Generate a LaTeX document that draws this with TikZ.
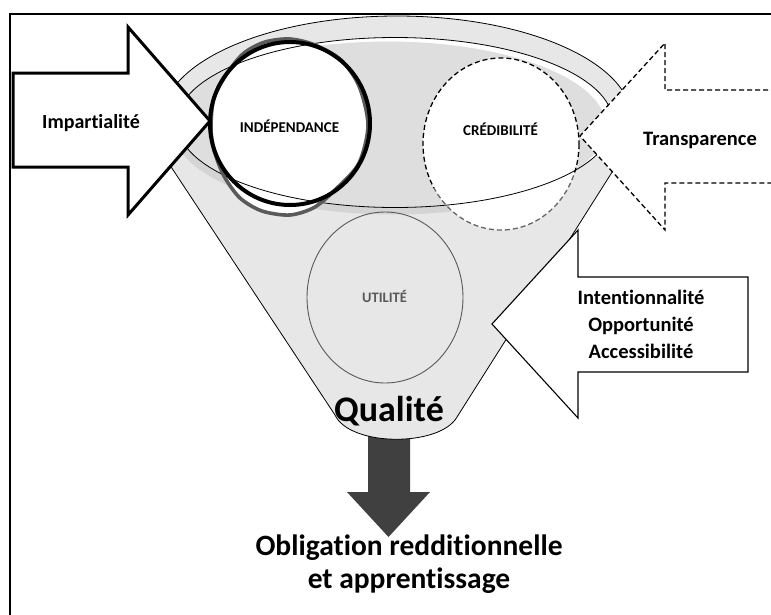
\documentclass[tikz,border=0pt]{standalone}
\usepackage{fontspec}
\setmainfont{Carlito}[RawFeature=-liga, RawFeature=-calt]
\definecolor{funnelgray}{HTML}{E7E7E7}
\definecolor{innergray}{HTML}{DEDEDE}
\definecolor{bandgray}{HTML}{D4D4D4}
\definecolor{ringgray}{HTML}{5A5A5A}
\definecolor{utilgray}{HTML}{595959}
\definecolor{arrowdark}{HTML}{404040}
\begin{document}
\begin{tikzpicture}[x=1pt,y=-1pt,
  lbl/.style={inner sep=0pt, anchor=base},
  bigsize/.style={font=\bfseries\fontsize{20.5}{24}\selectfont},
  circsize/.style={font=\bfseries\fontsize{15}{18}\selectfont},
  thinline/.style={draw=black, line width=0.8pt},
  dashline/.style={line width=1.3pt, dash pattern=on 5pt off 3pt}]
\useasboundingbox (0,0) rectangle (771,614);
\clip (0,0) rectangle (771,614);
\fill[white] (0,0) rectangle (771,614);

% frame
\draw[line width=2pt] (10,640) -- (10,13.5) -- (800,13.5);

% down arrow (under the funnel)
\fill[arrowdark] (368,428) -- (410,428) -- (410,492) -- (430,492) -- (388.5,537) -- (347,492) -- (368,492) -- cycle;

% funnel body
\fill[funnelgray] (150,135) -- (335,415) .. controls (350,447) and (440,447) .. (457,417) -- (640,128) -- cycle;
\fill[funnelgray] (397,120) ellipse [x radius=235, y radius=104];

% shading band under the opening
\begin{scope}
  \clip (140,125) rectangle (545,240);
  \draw[bandgray, line width=7pt] (393,126) ellipse [x radius=218, y radius=85];
\end{scope}

% opening
\fill[white] (395,122.5) ellipse [x radius=218, y radius=85];
\begin{scope}
  \clip (395,122.5) ellipse [x radius=218, y radius=85];
  \fill[innergray] (388,126.5) ellipse [x radius=218, y radius=85];
\end{scope}

% circle fills
\fill[white] plot[smooth cycle] coordinates {(211,128) (214,98) (228,72) (244,53) (265,42) (290,39) (315,45) (341,60) (359,86) (368,125) (359,163) (337,188) (315,207) (290,215) (262,211) (240,198) (224,176) (214,150)};
\fill[white] (290,123.5) ellipse [x radius=80, y radius=81.5];
\fill[white] (501,144) ellipse [x radius=78, y radius=86];

% funnel outlines
\draw[thinline] (162,120) arc[start angle=180, end angle=360, x radius=235, y radius=104];
\draw[thinline] (395,122.5) ellipse [x radius=218, y radius=85];
\draw[thinline] (150,135) -- (335,415) .. controls (350,447) and (440,447) .. (457,417) -- (640,128);

% UTILITE circle
\draw[utilgray, line width=0.9pt] (385,297.5) ellipse [x radius=78, y radius=85.5];

% INDEPENDANCE ring
\draw[ringgray, line width=3.6pt] plot[smooth cycle] coordinates {(211,128) (214,98) (228,72) (244,53) (265,42) (290,39) (315,45) (341,60) (359,86) (368,125) (359,163) (337,188) (315,207) (290,215) (262,211) (240,198) (224,176) (214,150)};
\draw[black, line width=4pt] (290,123.5) ellipse [x radius=80, y radius=81.5];

% CREDIBILITE dashed circle
\begin{scope}
  \clip (400,30) -- (600,30) -- (600,170) -- (400,192) -- cycle;
  \draw[dashline, black] (501,144) ellipse [x radius=78, y radius=86];
\end{scope}
\begin{scope}
  \clip (400,192) -- (600,170) -- (600,240) -- (400,240) -- cycle;
  \draw[dashline, black!60] (501,144) ellipse [x radius=78, y radius=86];
\end{scope}

% arrows
\draw[line width=3pt, fill=white, line join=miter] (13,73) -- (128,73) -- (128,27) -- (210,121) -- (128,215) -- (128,167) -- (13,167) -- cycle;
\draw[dashline, fill=white] (800,90) -- (665,90) -- (665,43) -- (580,136) -- (665,230) -- (665,183) -- (800,183);
\draw[line width=1.1pt, fill=white] (748,277) -- (578,277) -- (578,230) -- (492,324) -- (578,418) -- (578,372) -- (748,372) -- cycle;

% texts
\node[lbl, font=\bfseries\fontsize{20}{24}\selectfont] (imp) at (91,128) {Impartialité};
\node[lbl, bigsize] (trans) at (700,145) {Transparence};
\node[lbl, bigsize] (int1) at (641,304) {Intentionnalité};
\node[lbl, bigsize] (int2) at (641,331) {Opportunité};
\node[lbl, bigsize] (int3) at (641,358) {Accessibilité};
\node[lbl, circsize] (indep) at (289.5,132) {INDÉPENDANCE};
\node[lbl, circsize] (cred) at (500.5,135) {CRÉDIBILITÉ};
\node[lbl, font=\bfseries\fontsize{14.5}{17}\selectfont, text=utilgray] (util) at (384.5,302.5) {UTILITÉ};
\node[lbl, font=\bfseries\fontsize{36}{40}\selectfont] (qual) at (389,421) {Qualité};
\node[lbl, font=\bfseries\fontsize{29.5}{33}\selectfont] (obl1) at (409,555) {Obligation redditionnelle};
\node[lbl, font=\bfseries\fontsize{29.5}{33}\selectfont] (obl2) at (409,588) {et apprentissage};
\end{tikzpicture}
\end{document}
